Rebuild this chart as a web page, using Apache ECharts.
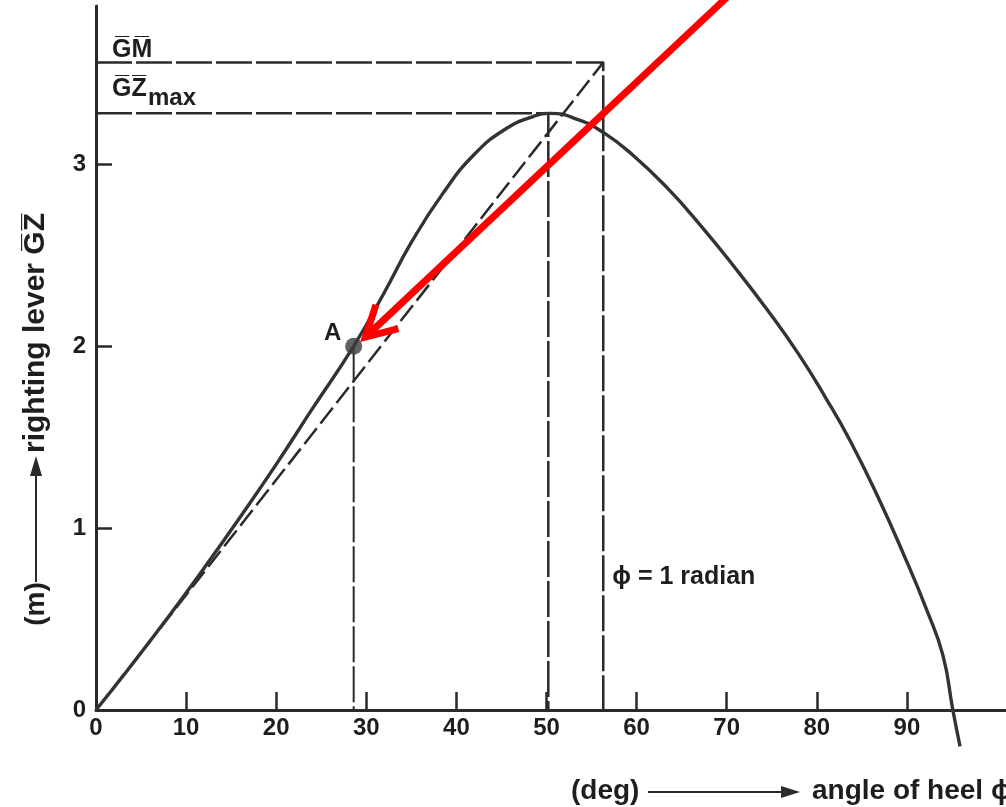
<!DOCTYPE html>
<html>
<head>
<meta charset="utf-8">
<script src="https://cdn.jsdelivr.net/npm/echarts@6/dist/echarts.min.js"></script>
<style>
html, body { margin: 0; padding: 0; background: #fff; }
#main { width: 1006px; height: 807px; }
</style>
</head>
<body>
<div id="main"></div>
<script>
// righting lever curve: angle of heel (deg) -> GZ (m)
var heelDeg = [0, 4, 8, 12, 16, 20, 24, 28.6, 32, 35, 38.5, 42, 45.5, 48.5, 50.4, 53.5, 56.3, 59.6, 63.4, 67, 70.7, 74.5, 78, 81, 83.7, 86.7, 89.6, 92.2, 94, 95.1, 95.9];
var gzVal   = [0, 0.25, 0.51, 0.78, 1.06, 1.35, 1.655, 2.0, 2.295, 2.57, 2.84, 3.055, 3.195, 3.262, 3.28, 3.245, 3.175, 3.05, 2.87, 2.67, 2.445, 2.2, 1.955, 1.715, 1.48, 1.18, 0.86, 0.55, 0.3, 0, -0.2];

var gmVal = 3.56;       // GM read at 1 radian
var gzMaxVal = 3.28;
var gzMaxDeg = 50.2;
var radianDeg = 56.3;   // "phi = 1 radian" line
var pointA = [28.6, 2.0];

var xLabelValues = [0, 10, 20, 30, 40, 50, 60, 70, 80, 90];
var xTickValues = [10, 20, 30, 40, 50, 60, 70, 80, 90];
var yLabelValues = [0, 1, 2, 3];
var yTickValues = [1, 2, 3];

// red highlight arrow (data coords, start runs off the top)
var arrowFrom = [70.5, 3.94];
var arrowTo = [29.9, 2.05];

var FONT = '"Liberation Sans", Arial, sans-serif';
var INK = '#2a2a2a';
var TXT = '#1e1e1e';

function pairs(xs, ys) {
    return xs.map(function (x, i) { return [x, ys[i]]; });
}

var chart = echarts.init(document.getElementById('main'));

var guide = { color: INK, width: 2.5, type: [36, 4] };

var option = {
    backgroundColor: '#fff',
    animation: false,
    grid: { left: 96, top: 6, right: 0, bottom: 97 },
    xAxis: {
        type: 'value', min: 0, max: 101, interval: 10,
        axisLine: { onZero: true, lineStyle: { color: INK, width: 3 } },
        axisTick: { inside: true, length: 18, customValues: xTickValues, lineStyle: { color: INK, width: 2.5 } },
        axisLabel: { customValues: xLabelValues, margin: 6, color: TXT, fontSize: 24, fontWeight: 'bold', fontFamily: FONT },
        splitLine: { show: false }
    },
    yAxis: {
        type: 'value', min: 0, max: 3.87, interval: 1,
        axisLine: { onZero: true, lineStyle: { color: INK, width: 3 } },
        axisTick: { inside: true, length: 16, customValues: yTickValues, lineStyle: { color: INK, width: 2.5 } },
        axisLabel: { customValues: yLabelValues, margin: 10, color: TXT, fontSize: 24, fontWeight: 'bold', fontFamily: FONT },
        splitLine: { show: false }
    },
    series: [
        {
            name: 'GM guide', type: 'line', symbol: 'none', clip: false,
            data: [[0, gmVal], [radianDeg, gmVal], [radianDeg, 0]],
            lineStyle: guide
        },
        {
            name: 'GZmax guide', type: 'line', symbol: 'none', clip: false,
            data: [[0, gzMaxVal], [gzMaxDeg, gzMaxVal], [gzMaxDeg, 0]],
            lineStyle: guide
        },
        {
            name: 'A drop', type: 'line', symbol: 'none', clip: false,
            data: [pointA, [pointA[0], 0]],
            lineStyle: { color: INK, width: 2, type: [36, 4] }
        },
        {
            name: 'tangent', type: 'line', symbol: 'none', clip: false,
            data: [[0, 0], [radianDeg, gmVal]],
            lineStyle: { color: INK, width: 2.5, type: [20, 6] }
        },
        {
            name: 'GZ', type: 'line', symbol: 'none', clip: false, smooth: 0.5, z: 5,
            data: pairs(heelDeg, gzVal),
            lineStyle: { color: '#333', width: 3.4 }
        },
        {
            name: 'A', type: 'scatter', z: 6, symbolSize: 17,
            itemStyle: { color: '#3d3a3c' },
            data: [pointA]
        }
    ]
};
chart.setOption(option);

function px(v) { return chart.convertToPixel({ gridIndex: 0 }, v); }

// red arrow geometry
var p0 = px(arrowFrom);
var p1 = px(arrowTo);
var ang = Math.atan2(p0[1] - p1[1], p0[0] - p1[0]);
var headLen = 34, spread = 0.5;
var armA = [p1[0] + headLen * Math.cos(ang + spread), p1[1] + headLen * Math.sin(ang + spread)];
var armB = [p1[0] + headLen * Math.cos(ang - spread), p1[1] + headLen * Math.sin(ang - spread)];

// annotation anchors
var gmAt = px([0, gmVal]);
var gzAt = px([0, gzMaxVal]);
var aAt = px(pointA);
var radAt = px([radianDeg, 0.73]);

var titleFont = 'bold 28px ' + FONT;
var yTitleFont = 'bold 30px ' + FONT;
var noteFont = 'bold 25px ' + FONT;

function label(x, y, text, font, align, vAlign) {
    return { type: 'text', x: x, y: y, z: 50, style: { text: text, font: font, fill: TXT, align: align || 'left', verticalAlign: vAlign || 'top' } };
}

chart.setOption({
    graphic: [
        // in-plot notes
        label(gmAt[0] + 16, gmAt[1] - 25, 'G\u0305M\u0305', noteFont),
        label(gzAt[0] + 16, gzAt[1] - 37, 'G\u0305Z\u0305', noteFont),
        label(gzAt[0] + 52, gzAt[1] - 27, 'max', 'bold 24px ' + FONT),
        label(aAt[0] - 21, aAt[1] - 13, 'A', 'bold 24px ' + FONT, 'center', 'middle'),
        label(radAt[0] + 9, radAt[1], '\u03d5 = 1 radian', noteFont, 'left', 'middle'),
        // x title
        label(571, 791, '(deg)', titleFont, 'left', 'middle'),
        { type: 'line', shape: { x1: 648, y1: 792, x2: 784, y2: 792 }, style: { stroke: INK, lineWidth: 2 } },
        { type: 'polygon', shape: { points: [[800, 792], [781, 786], [781, 798]] }, style: { fill: INK } },
        label(812, 791, 'angle of heel \u03d5', titleFont, 'left', 'middle'),
        // y title (rotated)
        { type: 'text', x: 36, y: 604, rotation: Math.PI / 2, style: { text: '(m)', font: titleFont, fill: TXT, align: 'center', verticalAlign: 'middle' } },
        { type: 'line', shape: { x1: 36, y1: 582, x2: 36, y2: 474 }, style: { stroke: INK, lineWidth: 2 } },
        { type: 'polygon', shape: { points: [[36, 456], [30, 476], [42, 476]] }, style: { fill: INK } },
        { type: 'text', x: 36, y: 453, rotation: Math.PI / 2, style: { text: 'righting lever G\u0305Z\u0305', font: yTitleFont, fill: TXT, align: 'left', verticalAlign: 'middle' } },
        // red arrow
        { type: 'line', z: 100, shape: { x1: p0[0], y1: p0[1], x2: p1[0], y2: p1[1] }, style: { stroke: '#ff0000', lineWidth: 7 } },
        { type: 'polyline', z: 100, shape: { points: [armA, p1, armB] }, style: { stroke: '#ff0000', lineWidth: 7, lineJoin: 'miter', fill: null } }
    ]
});
</script>
</body>
</html>
